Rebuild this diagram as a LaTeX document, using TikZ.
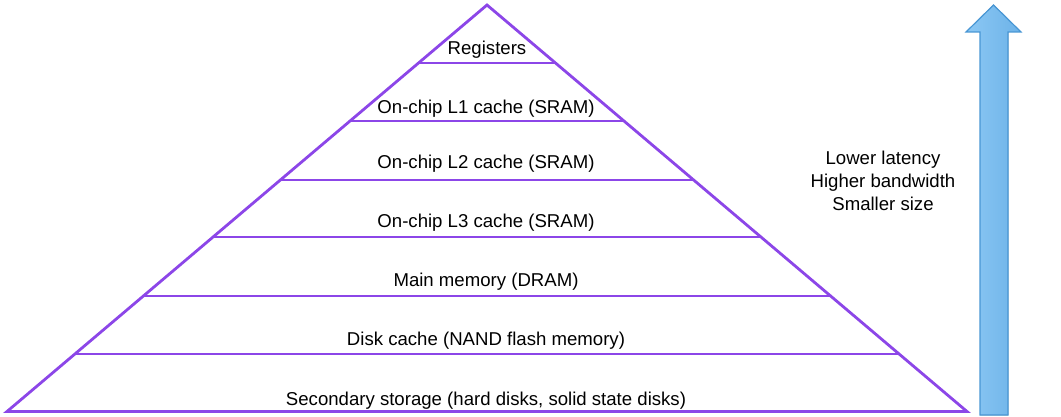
\documentclass[tikz,border=0pt]{standalone}
\usepackage{fontspec}
\setmainfont{Liberation Sans}
\usetikzlibrary{calc}
\definecolor{purp}{RGB}{140,70,232}
\definecolor{arrowedge}{RGB}{72,150,212}
\definecolor{arrowleft}{RGB}{140,200,244}
\definecolor{arrowright}{RGB}{108,178,232}
\tikzset{
  layer/.style={draw=purp,line width=2.8pt},
  lbl/.style={font=\fontsize{18.6}{23}\selectfont,inner sep=0pt,anchor=base},
}

\begin{document}
\begin{tikzpicture}[x=1pt,y=-1pt]
   \useasboundingbox (0,0) rectangle (1061,417);
   \coordinate (top) at (487,5);
   \coordinate (bl) at (7,411.5);
   \coordinate (br) at (967,411.5);
   \draw[layer] (top) -- (bl) -- (br) -- cycle;
   \foreach \y in {63,121,180,237,296,354}{
     \pgfmathsetmacro\t{(\y-5)/406.5}
     \draw[layer] ($(top)!\t!(bl)$) -- ($(top)!\t!(br)$);
   }
   \node[lbl] (reg) at (487,55) {Registers};
   \node[lbl] (lone) at (486,114) {On-chip L1 cache (SRAM)};
   \node[lbl] (ltwo) at (486,168) {On-chip L2 cache (SRAM)};
   \node[lbl] (lthree) at (486,227) {On-chip L3 cache (SRAM)};
   \node[lbl] (dram) at (486,286) {Main memory (DRAM)};
   \node[lbl] (disk) at (486,345) {Disk cache (NAND flash memory)};
   \node[lbl] (sec) at (486,405) {Secondary storage (hard disks, solid state disks)};
   \filldraw[draw=arrowedge,line width=1.2pt,left color=arrowleft,right color=arrowright]
     (980,415) -- (980,32) -- (966,32) -- (993.5,5) -- (1021,32) -- (1008,32) -- (1008,415) -- cycle;
   \node[lbl,anchor=center,align=center] (trend) at (883,181)
     {Lower latency\\Higher bandwidth\\Smaller size};
\end{tikzpicture}
\end{document}
